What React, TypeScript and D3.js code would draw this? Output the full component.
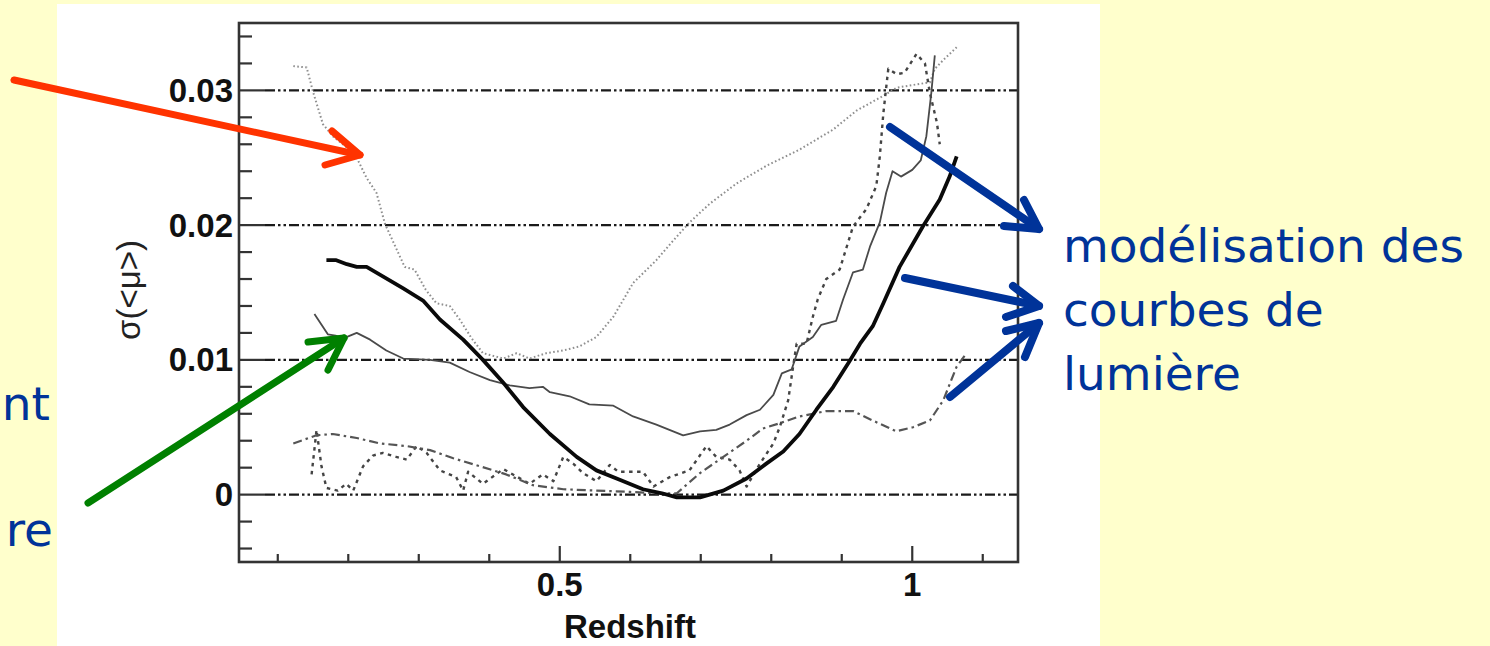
import React from 'react';
import * as d3 from 'd3';

// Axis ticks
const redshiftMajor = [0.5, 1];
const redshiftLabels = ['0.5', '1'];
const redshiftMinor = [0.1, 0.2, 0.3, 0.4, 0.6, 0.7, 0.8, 0.9, 1.1];
const sigmaMajor = [0, 0.01, 0.02, 0.03];
const sigmaLabels = ['0', '0.01', '0.02', '0.03'];
const sigmaMinor = [-0.004, -0.002, 0.002, 0.004, 0.006, 0.008, 0.012, 0.014, 0.016, 0.018,
  0.022, 0.024, 0.026, 0.028, 0.032, 0.034];

// σ(<μ>) versus redshift, one array per systematic
const lightDotted: [number, number][] = [
  [0.122, 0.0318], [0.141, 0.0317], [0.150, 0.0299], [0.164, 0.0275], [0.178, 0.0266],
  [0.195, 0.0259], [0.212, 0.0250], [0.226, 0.0235], [0.240, 0.0224], [0.252, 0.0201],
  [0.266, 0.0185], [0.280, 0.0169], [0.294, 0.0167], [0.310, 0.0152], [0.325, 0.0142],
  [0.344, 0.0140], [0.358, 0.0130], [0.375, 0.0116], [0.391, 0.0105], [0.420, 0.0101],
  [0.439, 0.0105], [0.457, 0.0101], [0.481, 0.0105], [0.505, 0.0107], [0.528, 0.0110],
  [0.552, 0.0117], [0.576, 0.0132], [0.604, 0.0157], [0.637, 0.0174], [0.660, 0.0188],
  [0.684, 0.0202], [0.713, 0.0216], [0.751, 0.0231], [0.793, 0.0244], [0.840, 0.0256],
  [0.888, 0.0271], [0.921, 0.0285], [0.959, 0.0296], [0.978, 0.0302], [1.001, 0.0304],
  [1.025, 0.0306], [1.032, 0.0316], [1.045, 0.0323], [1.063, 0.0332],
];

const thickSolid: [number, number][] = [
  [0.169, 0.0174], [0.183, 0.0174], [0.198, 0.0171], [0.212, 0.0169], [0.226, 0.0169],
  [0.249, 0.0162], [0.278, 0.0153], [0.306, 0.0144], [0.330, 0.0130], [0.363, 0.0115],
  [0.391, 0.0100], [0.420, 0.0083], [0.448, 0.0065], [0.486, 0.0045], [0.524, 0.0028],
  [0.552, 0.0018], [0.585, 0.0011], [0.618, 0.0004], [0.645, 0.0001], [0.666, -0.0002],
  [0.699, -0.0002], [0.732, 0.0003], [0.765, 0.0012], [0.793, 0.0023], [0.817, 0.0032],
  [0.840, 0.0045], [0.864, 0.0063], [0.888, 0.0080], [0.911, 0.0099], [0.926, 0.0112],
  [0.944, 0.0125], [0.959, 0.0142], [0.982, 0.0169], [1.015, 0.0199], [1.039, 0.0219],
  [1.053, 0.0236], [1.063, 0.0251],
];

const thinSolid: [number, number][] = [
  [0.152, 0.0134], [0.171, 0.0119], [0.182, 0.0118], [0.193, 0.0116], [0.212, 0.0120],
  [0.231, 0.0115], [0.254, 0.0107], [0.278, 0.0101], [0.316, 0.0100], [0.344, 0.0098],
  [0.372, 0.0091], [0.401, 0.0085], [0.429, 0.0081], [0.457, 0.0079], [0.476, 0.0080],
  [0.486, 0.0076], [0.514, 0.0073], [0.542, 0.0067], [0.576, 0.0066], [0.604, 0.0058],
  [0.637, 0.0052], [0.675, 0.0044], [0.699, 0.0047], [0.722, 0.0048], [0.741, 0.0052],
  [0.765, 0.0059], [0.784, 0.0063], [0.803, 0.0074], [0.815, 0.0090], [0.829, 0.0093],
  [0.840, 0.0110], [0.859, 0.0117], [0.871, 0.0126], [0.892, 0.0129], [0.902, 0.0145],
  [0.916, 0.0165], [0.930, 0.0167], [0.940, 0.0184], [0.954, 0.0202], [0.963, 0.0224],
  [0.972, 0.0240], [0.984, 0.0236], [1.000, 0.0241], [1.012, 0.0248], [1.020, 0.0266],
  [1.027, 0.0298], [1.032, 0.0326],
];

const dashDot: [number, number][] = [
  [0.122, 0.0038], [0.155, 0.0044], [0.178, 0.0045], [0.212, 0.0042], [0.245, 0.0038],
  [0.283, 0.0036], [0.316, 0.0033], [0.349, 0.0027], [0.387, 0.0021], [0.424, 0.0015],
  [0.462, 0.0007], [0.505, 0.0004], [0.552, 0.0003], [0.600, 0.0002], [0.640, 0.0001],
  [0.666, 0.0001], [0.699, 0.0016], [0.732, 0.0028], [0.765, 0.0040], [0.788, 0.0049],
  [0.812, 0.0053], [0.840, 0.0058], [0.878, 0.0062], [0.916, 0.0062], [0.944, 0.0055],
  [0.977, 0.0047], [1.001, 0.0050], [1.025, 0.0055], [1.044, 0.0070], [1.063, 0.0095],
  [1.077, 0.0105],
];

const sparseDashed: [number, number][] = [
  [0.148, 0.0015], [0.155, 0.0048], [0.162, 0.0021], [0.169, 0.0005], [0.185, 0.0003],
  [0.197, 0.0008], [0.207, 0.0003], [0.221, 0.0021], [0.235, 0.0029], [0.249, 0.0031],
  [0.268, 0.0028], [0.283, 0.0026], [0.297, 0.0036], [0.311, 0.0031], [0.330, 0.0018],
  [0.353, 0.0013], [0.363, 0.0003], [0.370, 0.0017], [0.391, 0.0008], [0.420, 0.0019],
  [0.457, 0.0008], [0.476, 0.0015], [0.491, 0.0010], [0.505, 0.0028], [0.519, 0.0023],
  [0.533, 0.0016], [0.552, 0.0010], [0.571, 0.0022], [0.583, 0.0017], [0.618, 0.0017],
  [0.633, 0.0006], [0.656, 0.0013], [0.684, 0.0018], [0.708, 0.0036], [0.722, 0.0028],
  [0.741, 0.0026], [0.755, 0.0018], [0.765, 0.0006], [0.784, 0.0023], [0.803, 0.0038],
  [0.812, 0.0050], [0.824, 0.0070], [0.831, 0.0095], [0.836, 0.0112], [0.850, 0.0112],
  [0.859, 0.0132], [0.866, 0.0145], [0.878, 0.0160], [0.897, 0.0167], [0.916, 0.0199],
  [0.935, 0.0212], [0.949, 0.0229], [0.954, 0.0251], [0.959, 0.0283], [0.966, 0.0316],
  [0.978, 0.0312], [0.989, 0.0313], [1.006, 0.0327], [1.018, 0.0320], [1.025, 0.0298],
  [1.035, 0.0276], [1.039, 0.0260],
];

const rightNote = ['modélisation des', 'courbes de', 'lumière'];
const leftFragments = ['nt', 're'];

const BLUE = '#003399';
const FONT = '"Liberation Sans", Arial, Helvetica, sans-serif';
const HAND = '"Comic Sans MS", "DejaVu Sans", sans-serif';

export default function App() {
  const W = 1490;
  const H = 646;
  const plot = { left: 239, right: 1018, top: 23, bottom: 562 };

  const x = d3.scaleLinear().domain([0.045, 1.15]).range([plot.left, plot.right]);
  const y = d3.scaleLinear().domain([-0.005, 0.035]).range([plot.bottom, plot.top]);

  const line = d3
    .line<[number, number]>()
    .x((d) => x(d[0]))
    .y((d) => y(d[1]));

  const series = [
    { data: lightDotted, stroke: '#8f8f8f', width: 2, dash: '1.6,2.4' },
    { data: sparseDashed, stroke: '#444', width: 2.4, dash: '3.5,4.5' },
    { data: dashDot, stroke: '#555', width: 2.2, dash: '9,4,2.5,4' },
    { data: thinSolid, stroke: '#4a4a4a', width: 1.8, dash: undefined },
    { data: thickSolid, stroke: '#0a0a0a', width: 3.8, dash: undefined },
  ];

  // Annotation arrows: shaft start, tip, and the two barbs of the open head
  const arrows = [
    { color: '#ff3300', w: 7, from: [14, 80], tip: [360, 155], barbs: [[332, 131], [325, 165]] },
    { color: '#008000', w: 7, from: [88, 503], tip: [344, 338], barbs: [[308, 342], [328, 370]] },
    { color: BLUE, w: 8, from: [890, 127], tip: [1039, 229], barbs: [[1024, 200], [1004, 226]] },
    { color: BLUE, w: 8, from: [905, 278], tip: [1039, 306], barbs: [[1013, 286], [1006, 317]] },
    { color: BLUE, w: 8, from: [950, 397], tip: [1039, 323], barbs: [[1006, 331], [1025, 357]] },
  ];

  const gridX0 = plot.left + 26;

  return (
    <svg
      width={W}
      height={H}
      style={{ position: 'absolute', left: 0, top: 0, display: 'block' }}
    >
      <rect x={0} y={0} width={W} height={H} fill="#ffffcc" />
      <rect x={57} y={4} width={1043} height={H - 4} fill="#ffffff" />

      {/* horizontal grid */}
      {sigmaMajor.map((v) => (
        <line
          key={'g' + v}
          x1={gridX0}
          x2={plot.right}
          y1={y(v)}
          y2={y(v)}
          stroke="#1a1a1a"
          strokeWidth={2.2}
          strokeDasharray="10,3,2.5,3,2.5,3"
        />
      ))}

      {/* curves */}
      {series.map((s, i) => (
        <path
          key={'s' + i}
          d={line(s.data) || ''}
          fill="none"
          stroke={s.stroke}
          strokeWidth={s.width}
          strokeDasharray={s.dash}
          strokeLinejoin="round"
        />
      ))}

      {/* frame */}
      <rect
        x={plot.left}
        y={plot.top}
        width={plot.right - plot.left}
        height={plot.bottom - plot.top}
        fill="none"
        stroke="#333"
        strokeWidth={2.6}
      />

      {/* y ticks */}
      {sigmaMinor.map((v) => (
        <line key={'ym' + v} x1={plot.left} x2={plot.left + 13} y1={y(v)} y2={y(v)} stroke="#333" strokeWidth={2.2} />
      ))}
      {sigmaMajor.map((v, i) => (
        <g key={'yM' + v}>
          <line x1={plot.left} x2={gridX0} y1={y(v)} y2={y(v)} stroke="#333" strokeWidth={2.2} />
          <text
            x={plot.left - 6}
            y={y(v) + 11.5}
            textAnchor="end"
            fontFamily={FONT}
            fontWeight="bold"
            fontSize={33}
            fill="#111"
          >
            {sigmaLabels[i]}
          </text>
        </g>
      ))}

      {/* x ticks */}
      {redshiftMinor.map((v) => (
        <line key={'xm' + v} x1={x(v)} x2={x(v)} y1={plot.bottom} y2={plot.bottom - 8} stroke="#333" strokeWidth={2.2} />
      ))}
      {redshiftMajor.map((v, i) => (
        <g key={'xM' + v}>
          <line x1={x(v)} x2={x(v)} y1={plot.bottom} y2={plot.bottom - 16} stroke="#333" strokeWidth={2.2} />
          <text
            x={x(v)}
            y={596}
            textAnchor="middle"
            fontFamily={FONT}
            fontWeight="bold"
            fontSize={33}
            fill="#111"
          >
            {redshiftLabels[i]}
          </text>
        </g>
      ))}

      {/* axis titles */}
      <text x={630} y={638} textAnchor="middle" fontFamily={FONT} fontWeight="bold" fontSize={33} fill="#111">
        Redshift
      </text>
      <text
        transform="translate(140,290) rotate(-90)"
        textAnchor="middle"
        fontFamily={FONT}
        fontSize={33}
        fill="#222"
      >
        σ(&lt;μ&gt;)
      </text>

      {/* annotations */}
      {leftFragments.map((t, i) => (
        <text key={'lf' + i} x={i === 0 ? 50 : 53} y={i === 0 ? 420 : 546} textAnchor="end" fontFamily={HAND} fontSize={47} fill={BLUE}>
          {t}
        </text>
      ))}
      {rightNote.map((t, i) => (
        <text key={'rn' + i} x={1063} y={262 + i * 64} fontFamily={HAND} fontSize={47} fill={BLUE}>
          {t}
        </text>
      ))}
      {arrows.map((a, i) => (
        <g key={'a' + i} stroke={a.color} strokeWidth={a.w} fill="none" strokeLinecap="round" strokeLinejoin="round">
          <line x1={a.from[0]} y1={a.from[1]} x2={a.tip[0]} y2={a.tip[1]} />
          <polyline points={`${a.barbs[0][0]},${a.barbs[0][1]} ${a.tip[0]},${a.tip[1]} ${a.barbs[1][0]},${a.barbs[1][1]}`} />
        </g>
      ))}
    </svg>
  );
}
